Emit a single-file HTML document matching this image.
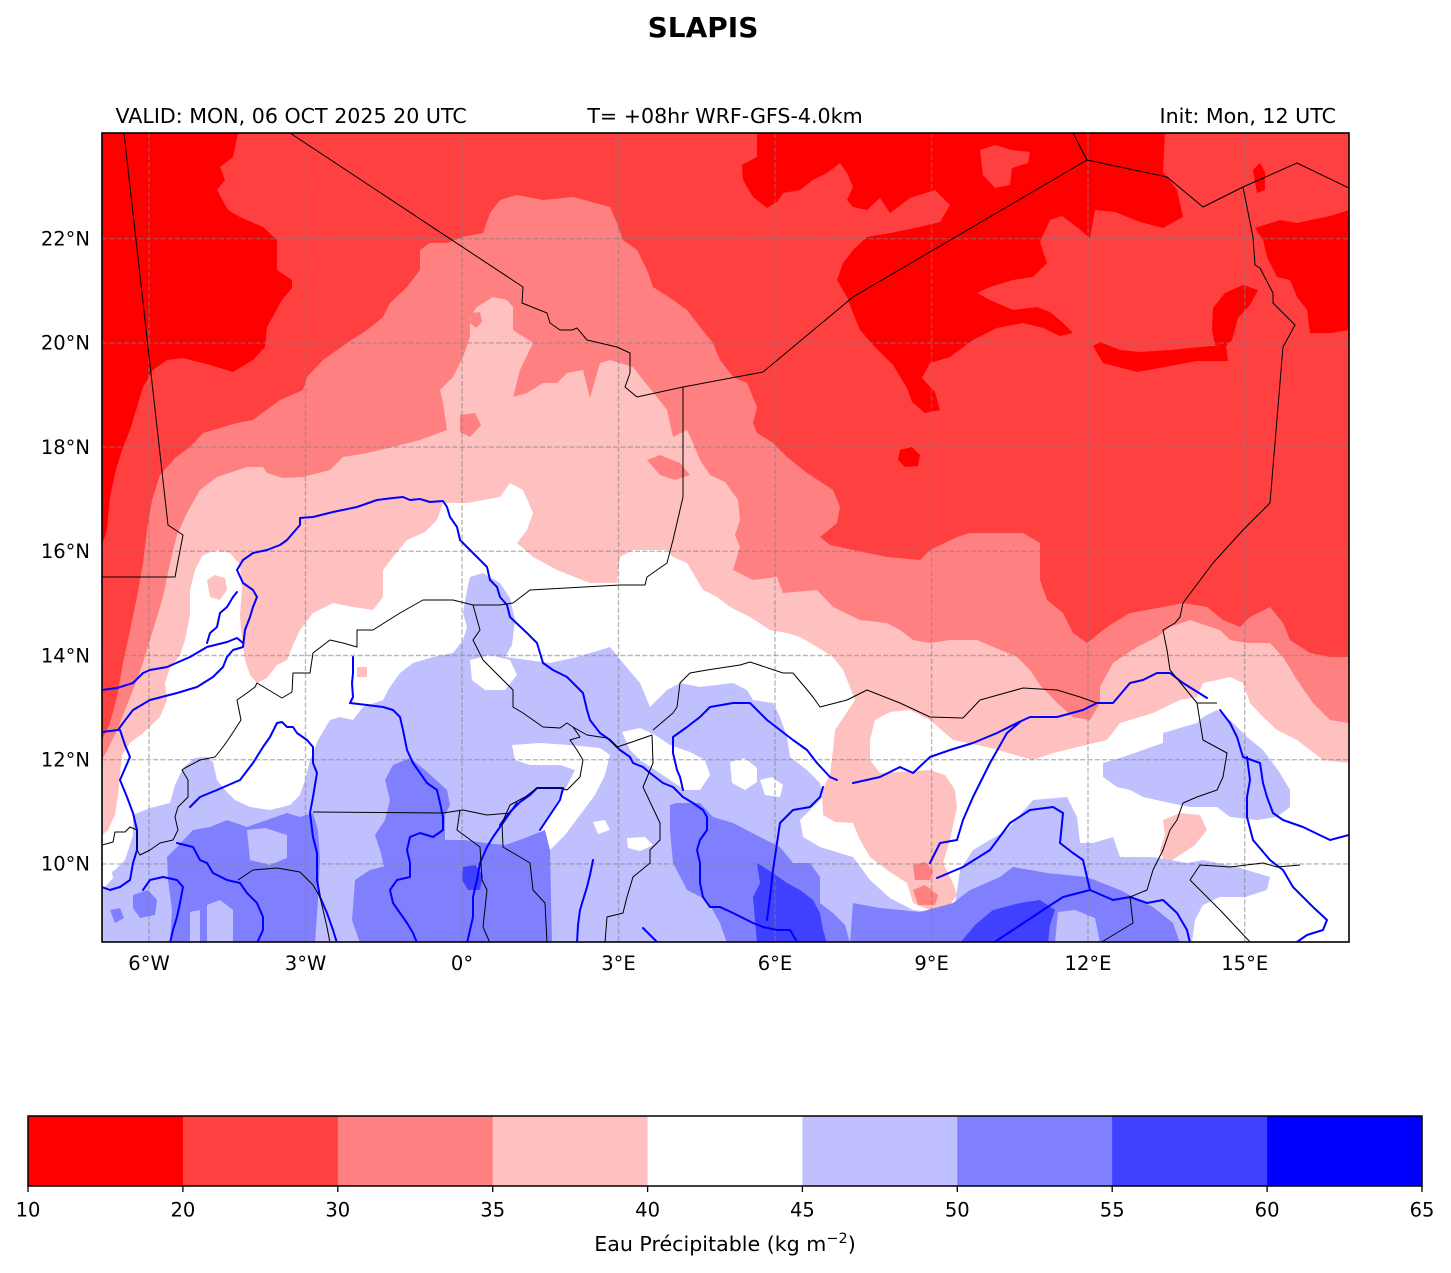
<!DOCTYPE html>
<html><head><meta charset="utf-8"><style>html,body{margin:0;padding:0;background:#fff}svg{display:block}</style></head>
<body>
<svg width="1451" height="1273" viewBox="0 0 1451 1273" xmlns="http://www.w3.org/2000/svg" font-family="'DejaVu Sans','Liberation Sans',sans-serif">
<defs><clipPath id="m"><rect x="102" y="133" width="1247" height="809"/></clipPath></defs>
<rect width="1451" height="1273" fill="#fff"/>
<text x="703" y="37" font-size="28" font-weight="bold" text-anchor="middle">SLAPIS</text>
<text x="115.5" y="123" font-size="20.6">VALID: MON, 06 OCT 2025 20 UTC</text>
<text x="725" y="123" font-size="20.6" text-anchor="middle">T= +08hr WRF-GFS-4.0km</text>
<text x="1336" y="123" font-size="20.6" text-anchor="end">Init: Mon, 12 UTC</text>

<g clip-path="url(#m)">
<rect x="102" y="133" width="1247" height="809" fill="#ff4040"/>
<!-- c1 -->
<g fill="#ff0000">
<polygon points="102,133 238,133 233,157 220,167 225,180 217,190 228,210 240,217 263,227 277,240 277,270 292,280 292,288 282,300 267,327 265,347 253,360 233,372 210,365 183,358 167,360 153,370 143,387 137,407 130,430 122,450 115,473 110,497 107,530 102,545"/>
<polygon points="757,133 1165,133 1163,172 1177,190 1183,217 1163,228 1140,222 1115,212 1095,210 1090,238 1078,228 1062,216 1050,220 1040,242 1047,263 1033,277 1013,280 990,287 977,293 990,300 1013,310 1037,307 1050,312 1063,323 1073,333 1060,336 1043,328 1023,323 997,328 973,340 950,357 930,363 922,378 935,392 940,410 925,413 912,402 907,388 893,365 873,345 860,330 853,313 847,297 837,280 843,263 853,250 867,237 890,233 915,228 940,222 950,205 935,190 910,198 890,213 880,198 867,210 853,207 847,200 853,187 847,173 840,163 827,173 813,180 800,190 783,193 777,202 767,208 753,197 743,180 742,165 757,157"/>
<polygon points="1255,228 1280,220 1297,223 1330,216 1349,210 1349,330 1330,333 1310,333 1307,310 1297,297 1290,280 1277,277 1267,257 1263,240"/>
<polygon points="1093,346 1103,363 1137,372 1165,367 1197,361 1228,361 1226,345 1200,347 1170,350 1140,352 1120,350 1100,342"/>
<polygon points="1212,330 1213,308 1225,293 1243,285 1258,290 1250,305 1238,318 1232,340 1226,346 1215,345"/>
<polygon points="900,450 912,447 920,455 918,466 905,467 898,460"/>
<polygon points="1253,170 1260,163 1265,172 1265,190 1257,193"/>
</g>
<polygon fill="#ff4040" points="980,150 995,145 1012,150 1030,152 1028,163 1012,168 1010,185 995,188 983,175"/>
<!-- c3 -->
<polygon fill="#ff8080" points="102,740 110,723 117,697 123,663 130,630 137,597 143,563 147,530 152,500 160,475 175,458 190,447 203,433 237,423 253,420 280,400 303,390 307,377 323,360 347,343 367,330 383,317 390,303 407,287 420,270 420,250 430,243 447,243 463,237 483,233 490,213 500,200 517,195 543,200 573,197 610,207 617,223 623,240 637,250 647,270 653,287 673,300 687,310 700,327 713,343 720,360 733,377 747,383 757,407 753,423 757,433 773,443 787,457 807,473 833,490 840,507 837,523 820,537 830,545 853,550 887,557 920,560 930,550 957,537 970,533 1023,533 1040,543 1040,580 1047,600 1063,613 1073,633 1087,643 1107,627 1130,613 1163,607 1183,603 1207,607 1223,620 1240,627 1250,617 1270,607 1283,623 1290,640 1310,653 1330,657 1349,657 1349,942 102,942"/>
<polygon fill="#ff8080" points="697,347 712,350 720,362 710,363 700,356"/>
<!-- c4 -->
<polygon fill="#ffc0c0" points="102,760 110,745 118,728 125,710 133,690 143,663 153,630 163,597 170,563 177,535 187,513 200,490 217,477 247,467 263,467 267,473 283,478 303,477 330,470 343,457 367,453 393,447 420,440 447,430 443,403 440,390 453,377 463,357 470,337 470,317 477,307 493,297 507,300 513,307 513,330 533,343 520,370 513,397 527,393 543,383 557,383 567,373 583,370 590,398 600,363 610,360 633,367 643,380 657,397 667,410 673,437 687,430 693,443 700,460 710,475 725,482 738,500 740,520 735,535 740,547 733,570 753,580 777,577 783,593 817,590 833,607 860,620 887,623 900,630 913,640 930,643 950,640 977,640 1017,657 1030,670 1040,685 1057,703 1073,717 1090,720 1100,703 1100,687 1113,663 1137,647 1157,637 1170,627 1190,620 1220,630 1230,640 1247,643 1270,643 1283,657 1297,680 1313,703 1330,720 1349,723 1349,942 102,942"/>
<g fill="#ff8080">
<polygon points="460,415 475,413 481,425 470,437 460,432"/>
<polygon points="471,313 480,312 482,322 476,328 470,323"/>
<polygon points="647,460 660,455 680,463 690,475 675,480 660,475"/>
</g>
<!-- white -->
<polygon fill="#ffffff" points="102,835 108,830 115,815 118,795 120,775 122,755 130,743 143,733 160,717 167,700 165,683 170,668 180,655 185,640 190,615 190,590 195,570 202,556 215,550 230,553 240,565 242,590 240,615 242,640 245,660 250,675 257,683 267,678 277,665 287,660 293,645 300,630 313,613 333,603 353,607 373,610 383,597 383,570 393,557 407,540 425,532 437,520 443,503 467,503 500,497 510,483 523,490 533,513 527,530 517,543 533,557 557,570 590,583 617,583 620,557 633,550 667,550 673,557 687,563 693,573 703,590 717,597 730,607 750,617 770,630 787,633 800,637 817,647 833,657 843,670 850,687 855,700 845,715 835,730 833,750 830,775 822,790 823,815 835,822 853,823 860,840 870,857 887,870 907,883 913,903 930,910 950,905 957,895 953,883 943,863 950,840 957,807 955,790 945,775 930,770 900,772 880,773 870,760 870,740 875,720 890,712 910,710 930,720 953,740 987,747 1033,760 1053,753 1107,740 1120,723 1153,713 1180,700 1197,697 1203,683 1217,680 1230,677 1243,683 1250,703 1263,717 1277,730 1297,740 1323,760 1349,763 1349,942 102,942"/>
<g fill="#ffc0c0">
<polygon points="1163,820 1180,813 1200,815 1207,830 1195,845 1180,855 1165,865 1160,850 1165,835"/>
<polygon points="357,667 367,667 367,677 357,677"/>
<polygon points="207,580 215,575 225,578 227,590 220,600 210,597"/>
</g>
<g fill="#ff8080">
<polygon points="913,865 925,862 933,870 930,880 915,880"/>
<polygon points="913,890 925,885 938,895 935,905 918,905"/>
</g>
<!-- c6 -->
<g fill="#c0c0ff">
<polygon points="102,878 115,870 125,860 133,835 133,815 150,808 170,803 175,785 183,768 195,758 207,757 213,762 217,780 225,790 235,800 250,807 270,810 290,805 300,795 305,780 310,760 318,740 330,720 340,717 353,720 363,707 383,700 390,687 400,673 413,663 433,657 453,653 463,640 467,627 463,613 467,590 470,577 483,573 500,583 510,598 515,620 512,645 505,657 550,663 577,657 610,647 623,663 640,683 650,707 667,690 680,683 700,687 733,683 747,690 753,700 773,703 780,717 787,737 790,757 807,770 820,783 823,797 800,820 803,837 820,847 853,857 870,880 890,898 913,910 935,912 955,905 960,870 973,850 1007,830 1033,800 1067,797 1077,817 1080,843 1093,843 1113,837 1120,857 1153,857 1187,863 1203,860 1237,867 1270,877 1267,890 1245,897 1220,897 1203,905 1195,920 1192,942 102,942"/>
<polygon points="1103,777 1103,763 1123,757 1143,750 1163,743 1163,733 1183,727 1197,723 1203,717 1217,710 1230,720 1247,737 1263,750 1280,773 1290,790 1290,807 1277,817 1257,820 1230,817 1217,807 1190,807 1170,803 1143,797 1130,790 1117,787"/>
</g>
<g fill="#ffffff">
<polygon points="470,660 490,655 510,660 517,675 505,690 485,690 472,680"/>
<polygon points="512,745 540,743 570,745 600,748 610,755 605,775 595,795 580,815 565,835 550,850 537,848 540,830 552,810 565,790 575,770 560,765 530,765 515,760"/>
<polygon points="622,732 640,728 655,735 670,745 690,752 705,760 710,775 700,790 685,790 670,780 655,770 640,760 630,750"/>
<polygon points="730,762 745,758 757,768 757,782 745,790 732,783"/>
<polygon points="760,780 772,777 783,785 780,797 765,795"/>
<polygon points="593,822 605,820 610,830 598,834"/>
<polygon points="627,838 645,837 653,845 640,851 628,848"/>
<polygon points="102,865 110,862 113,878 105,887 102,887"/>
</g>
<!-- c7 -->
<g fill="#8080ff">
<polygon points="167,857 177,847 193,830 210,827 227,820 247,827 287,813 300,817 313,813 318,830 320,860 318,900 315,943 170,943 172,910 168,880"/>
<polygon points="393,765 410,758 425,770 447,790 450,805 445,815 445,840 465,840 485,843 505,845 525,838 545,830 550,850 552,943 390,943 385,920 390,890 385,870 380,850 375,835 385,820 390,800 385,780"/>
<polygon points="133,895 148,890 157,900 155,915 140,918 133,908"/>
<polygon points="110,910 120,908 124,918 115,923"/>
<polygon points="355,880 370,870 390,865 392,943 360,943 352,920"/>
<polygon points="670,805 677,803 700,803 713,817 733,823 760,837 780,847 793,863 810,863 820,877 820,903 833,913 845,925 850,943 727,943 720,923 707,900 687,890 673,863 670,830"/>
<polygon points="850,943 853,903 880,908 920,912 953,903 970,890 1000,877 1013,867 1047,873 1087,877 1120,890 1153,907 1173,923 1180,943"/>
</g>
<g fill="#c0c0ff">
<polygon points="247,830 265,828 287,835 287,858 270,865 250,860"/>
<polygon points="207,905 220,900 233,910 233,943 207,943"/>
<polygon points="190,912 200,910 200,943 190,943"/>
<polygon points="1058,912 1075,910 1095,918 1100,943 1055,943"/>
</g>
<!-- c8 -->
<g fill="#4040ff">
<polygon points="757,863 773,873 787,883 800,890 813,900 820,913 823,930 827,943 757,943 753,897 760,883"/>
<polygon points="463,867 475,865 483,875 480,890 468,890 462,880"/>
<polygon points="960,943 975,925 993,910 1020,903 1040,900 1055,910 1050,925 1048,943"/>
</g>

<!-- gridlines -->
<g stroke="#808080" stroke-opacity="0.55" stroke-width="1.4" stroke-dasharray="5.1,2.2" fill="none">
<line x1="149" y1="133" x2="149" y2="942"/><line x1="305.5" y1="133" x2="305.5" y2="942"/>
<line x1="462" y1="133" x2="462" y2="942"/><line x1="618.5" y1="133" x2="618.5" y2="942"/>
<line x1="775" y1="133" x2="775" y2="942"/><line x1="931.6" y1="133" x2="931.6" y2="942"/>
<line x1="1088" y1="133" x2="1088" y2="942"/><line x1="1244.7" y1="133" x2="1244.7" y2="942"/>
<line x1="102" y1="238.7" x2="1349" y2="238.7"/><line x1="102" y1="342.9" x2="1349" y2="342.9"/>
<line x1="102" y1="447.1" x2="1349" y2="447.1"/><line x1="102" y1="551.3" x2="1349" y2="551.3"/>
<line x1="102" y1="655.5" x2="1349" y2="655.5"/><line x1="102" y1="759.7" x2="1349" y2="759.7"/>
<line x1="102" y1="863.9" x2="1349" y2="863.9"/>
</g>

<!-- rivers -->
<g stroke="#0000ff" stroke-width="2" fill="none" stroke-linejoin="round" stroke-linecap="round">
<polyline points="102,732 118,730 123,723 133,710 150,700 177,693 197,687 213,677 223,667 227,657 233,650 243,647 245,630 250,617 253,607 257,597 253,590 243,583 237,570 243,560 253,553 267,550 280,545 287,540 293,533 300,525 300,518 313,517 333,512 357,507 377,500 393,498 403,497 410,500 420,499 430,502 443,501 447,507 450,517 457,527 460,540 463,543 477,557 487,567 490,580 497,587 500,597 507,605 510,617 527,633 537,643 540,653 543,663 553,670 567,677 577,687 583,693 587,710 590,720 600,733 610,740 620,750 630,757 633,763 643,767 650,773 663,783 673,787 683,797 693,803 703,810 707,817 707,830 700,840 697,850 700,863 700,883 703,897 710,907 720,907 733,913 753,923 763,927 777,930 790,930 797,942"/>
<polyline points="102,690 117,688 133,683 143,673 150,670 167,667 190,657 207,647 227,642 237,638 243,643"/>
<polyline points="237,592 233,597 227,607 220,613 217,627 210,633 207,643"/>
<polyline points="120,730 125,745 130,757 120,780 127,797 133,813 137,830 137,850 133,863 130,880 120,887 110,890 102,887"/>
<polyline points="190,807 200,797 217,790 233,783 240,780 253,763 263,747 270,737 277,723 282,722 287,727 293,727 297,733 307,740 313,747 313,763 317,773 313,797 310,813 313,837 317,853 317,880 320,897 327,913 333,930 337,943"/>
<polyline points="353,657 353,673 352,683 353,697 350,703 367,705 383,707 393,710 400,717 403,730 407,750 413,763 420,773 427,783 437,790 440,803 443,817 443,830 433,837 420,833 410,837 407,850 410,863 410,877 397,880 390,890 393,903 400,913 407,923 413,933 417,943"/>
<polyline points="517,803 507,817 500,827 493,837 487,847 480,863 477,880 473,897 473,917 467,943"/>
<polyline points="143,890 150,880 163,877 177,880 183,887 180,903 177,917 173,930 170,943"/>
<polyline points="177,843 193,847 200,860 207,863 213,873 227,880 240,883 247,893 257,903 263,917 263,930 257,943"/>
<polyline points="683,790 680,777 677,770 673,753 673,737 687,727 700,717 710,707 733,703 750,703 767,720 780,730 793,740 807,750 817,763 830,777 837,780"/>
<polyline points="767,920 770,897 773,870 780,823 793,810 810,807 820,797 823,787"/>
<polyline points="853,783 880,777 900,767 913,773 930,757 950,750 973,743 997,733 1017,723 1030,717 1057,717 1083,710 1097,703 1113,703 1130,683 1143,680 1157,673 1170,673 1183,683 1207,698"/>
<polyline points="1020,722 1007,733 990,763 980,783 973,797 963,820 957,840 940,843 930,863"/>
<polyline points="937,878 963,867 990,850 1010,823 1030,810 1053,807 1063,813 1060,843 1073,853 1083,860 1090,890 1113,900 1130,897 1147,903 1163,900 1177,913 1187,930 1190,943"/>
<polyline points="993,943 1013,930 1043,910 1063,897 1090,890"/>
<polyline points="1220,710 1230,723 1237,737 1243,757 1260,763 1263,783 1267,797 1273,813 1283,820 1303,827 1330,840 1349,835"/>
<polyline points="1247,757 1250,780 1247,797 1247,817 1253,840 1270,860 1283,870 1293,887 1303,897 1313,907 1327,920 1323,930 1307,935 1297,942"/>
<polyline points="500,825 510,812 520,802 530,795 537,788 563,788 560,800 550,815 540,830"/>
<polyline points="593,860 590,875 587,887 583,900 580,910 578,925 577,943"/>
<polyline points="643,928 650,935 657,942"/>
</g>

<!-- borders -->
<g stroke="#000" stroke-width="1" fill="none" stroke-linejoin="round">
<polyline points="124,133 168,525 183,535 175,577 102,577"/>
<polyline points="290,133 523,287 522,303 532,307 547,313 550,323 560,330 572,330 577,328 587,340 617,347 630,353 630,373 625,387 637,397"/>
<polyline points="637,397 683,387 763,372 853,297 1087,160 1073,133"/>
<polyline points="1087,160 1167,177 1203,207 1243,187 1297,163 1349,188"/>
<polyline points="1243,187 1253,237 1255,265 1260,268 1273,293 1273,303 1295,325 1283,347 1270,503 1243,530 1213,563 1183,603 1180,617 1175,623 1163,630 1167,650 1170,670 1197,703 1217,703"/>
<polyline points="683,387 683,497 673,540 667,563 647,577 645,585 620,585 530,590 513,603 500,605 473,605 453,600 423,600 400,613 373,630 357,630 357,647 343,643 330,640 313,653 310,673 293,673 292,692 282,698 257,683 255,687 247,693 237,700 241,720 230,737 223,747 215,757 200,760 185,768 182,770 188,780 188,797 178,807 175,817 178,830 173,840 160,843 150,850 140,855 137,850 137,830 130,827 125,832 115,832 113,842 102,845"/>
<polyline points="238,880 253,870 277,868 300,872 313,885 320,897 327,927 330,943"/>
<polyline points="313,812 443,813 463,810 487,815 510,813"/>
<polyline points="460,810 457,830 480,847 482,880 487,890 483,927 490,943"/>
<polyline points="502,823 503,847 520,857 530,863 533,890 545,903 547,943"/>
<polyline points="652,735 653,763 643,787 660,823 660,840 650,850 650,863 633,877 627,897 623,913 607,917 605,943"/>
<polyline points="653,730 673,713 677,707 680,683 690,673 707,670 740,665 750,662 783,673 793,673 813,697 820,707 847,700 867,690 900,703 930,717 963,718 980,700 1023,688 1057,690 1080,697 1097,703"/>
<polyline points="473,605 480,630 473,640 483,660 493,670 513,690 513,707 523,713 543,727 560,728 567,723 573,727 580,737 570,740 577,750 583,760 580,777 567,790 560,788 537,788 525,797 510,805 502,823"/>
<polyline points="573,727 587,735 607,738 617,747 632,742 652,735"/>
<polyline points="1197,703 1203,740 1227,753 1223,777 1217,790 1197,797 1183,803 1177,820 1170,830 1163,850 1153,870 1147,890 1130,897 1133,923 1110,937 1100,943"/>
<polyline points="1190,880 1200,865 1230,867 1263,863 1277,867 1300,865"/>
<polyline points="1190,880 1220,910 1250,942"/>
</g>
</g>
<rect x="102" y="133" width="1247" height="809" fill="none" stroke="#000" stroke-width="1.6"/>

<!-- lat labels -->
<g font-size="19.5" text-anchor="end">
<text x="90" y="245.5">22°N</text>
<text x="90" y="349.7">20°N</text>
<text x="90" y="453.9">18°N</text>
<text x="90" y="558.1">16°N</text>
<text x="90" y="662.3">14°N</text>
<text x="90" y="766.5">12°N</text>
<text x="90" y="870.7">10°N</text>
</g>
<g font-size="19.5" text-anchor="middle">
<text x="149" y="970">6°W</text>
<text x="305.5" y="970">3°W</text>
<text x="462" y="970">0°</text>
<text x="618.5" y="970">3°E</text>
<text x="775" y="970">6°E</text>
<text x="931.6" y="970">9°E</text>
<text x="1088" y="970">12°E</text>
<text x="1244.7" y="970">15°E</text>
</g>

<!-- colorbar -->
<g>
<rect x="28" y="1116" width="155.9" height="70" fill="#ff0000"/>
<rect x="182.9" y="1116" width="155.9" height="70" fill="#ff4040"/>
<rect x="337.8" y="1116" width="155.9" height="70" fill="#ff8080"/>
<rect x="492.7" y="1116" width="155.9" height="70" fill="#ffc0c0"/>
<rect x="647.6" y="1116" width="155.9" height="70" fill="#ffffff"/>
<rect x="802.4" y="1116" width="155.9" height="70" fill="#c0c0ff"/>
<rect x="957.3" y="1116" width="155.9" height="70" fill="#8080ff"/>
<rect x="1112.2" y="1116" width="155.9" height="70" fill="#4040ff"/>
<rect x="1267.1" y="1116" width="154.9" height="70" fill="#0000ff"/>
<rect x="28" y="1116" width="1394" height="70" fill="none" stroke="#000" stroke-width="1.5"/>
<g stroke="#000" stroke-width="1.3">
<line x1="28" y1="1186" x2="28" y2="1192"/><line x1="182.9" y1="1186" x2="182.9" y2="1192"/>
<line x1="337.8" y1="1186" x2="337.8" y2="1192"/><line x1="492.7" y1="1186" x2="492.7" y2="1192"/>
<line x1="647.6" y1="1186" x2="647.6" y2="1192"/><line x1="802.4" y1="1186" x2="802.4" y2="1192"/>
<line x1="957.3" y1="1186" x2="957.3" y2="1192"/><line x1="1112.2" y1="1186" x2="1112.2" y2="1192"/>
<line x1="1267.1" y1="1186" x2="1267.1" y2="1192"/><line x1="1422" y1="1186" x2="1422" y2="1192"/>
</g>
<g font-size="19.5" text-anchor="middle">
<text x="28" y="1216.5">10</text>
<text x="182.9" y="1216.5">20</text>
<text x="337.8" y="1216.5">30</text>
<text x="492.7" y="1216.5">35</text>
<text x="647.6" y="1216.5">40</text>
<text x="802.4" y="1216.5">45</text>
<text x="957.3" y="1216.5">50</text>
<text x="1112.2" y="1216.5">55</text>
<text x="1267.1" y="1216.5">60</text>
<text x="1422" y="1216.5">65</text>
</g>
<text x="725" y="1251" font-size="20.6" text-anchor="middle">Eau Précipitable (kg m<tspan font-size="14.5" dy="-8">−2</tspan><tspan dy="8">)</tspan></text>
</g>
</svg>
</body></html>
